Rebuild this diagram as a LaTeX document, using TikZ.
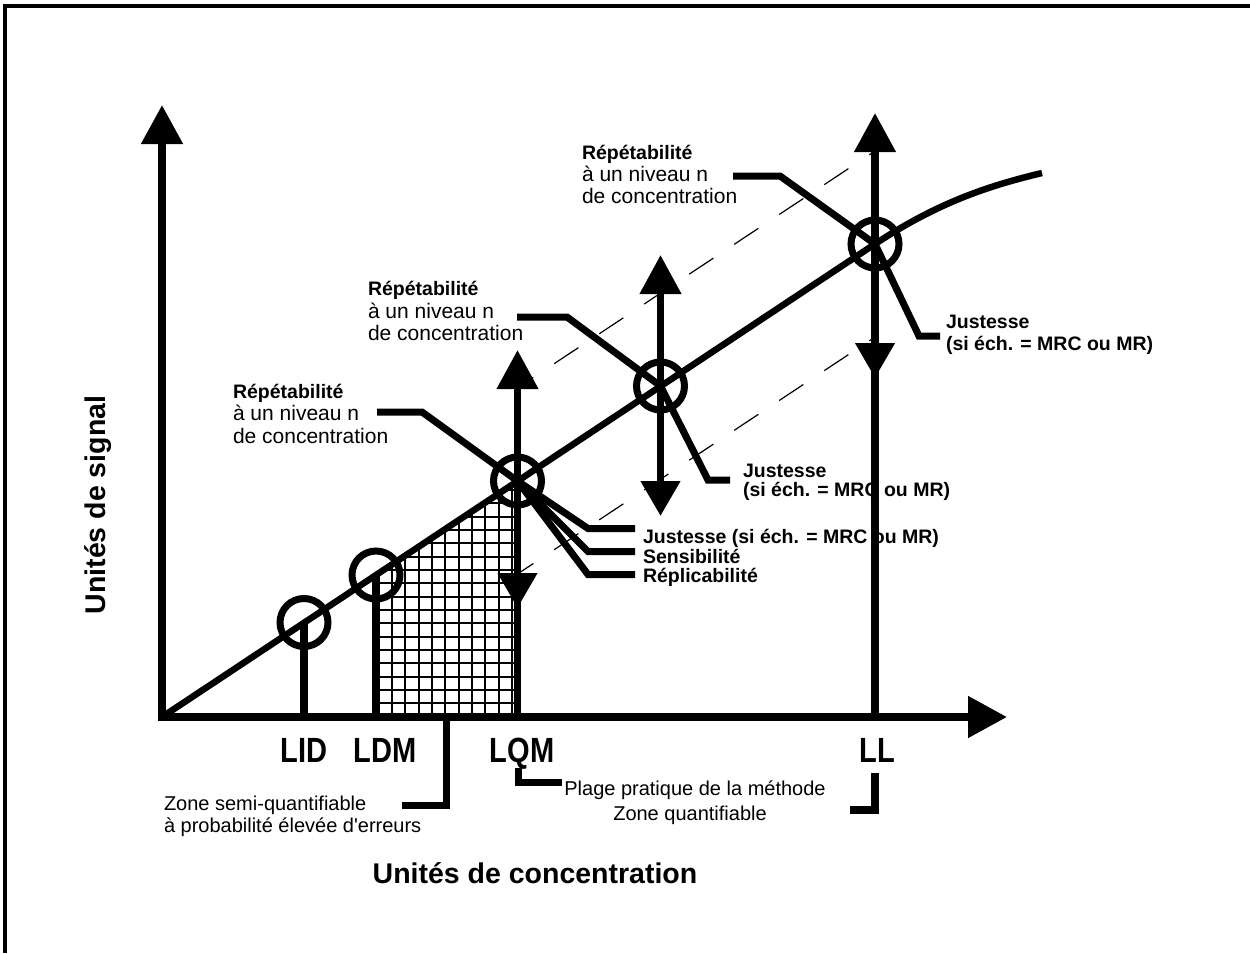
\documentclass[tikz,border=0pt]{standalone}
\usepackage{fontspec}
\setmainfont{Liberation Sans}
\usetikzlibrary{arrows.meta}
\newcommand\mycond[1]{\scalebox{0.83}[1]{#1}}
\begin{document}
\begin{tikzpicture}[x=1pt,y=-1pt,line join=miter,
  every node/.style={inner sep=0pt,outer sep=0pt},
  regtxt/.style={font=\fontsize{21}{24}\selectfont,anchor=base west},
  regsm/.style={font=\fontsize{20}{24}\selectfont,anchor=base west},
  boldsm/.style={font=\bfseries\fontsize{19.5}{22}\selectfont,anchor=base west},
  axlab/.style={font=\bfseries\fontsize{35}{40}\selectfont,anchor=base},
  titletxt/.style={font=\bfseries\fontsize{28.5}{32}\selectfont,anchor=base},
  axisline/.style={line width=8pt},
  heavy/.style={line width=7.5pt},
  leader/.style={line width=7pt},
  ring/.style={line width=7pt},
  mainline/.style={line width=6.5pt},
  gridl/.style={line width=2pt},
  dashl/.style={line width=1.2pt,dash pattern=on 29pt off 25pt,dash phase=10pt},
  uptip/.style={-{Triangle[width=40pt,length=39pt]}},
  dntip/.style={-{Triangle[width=38pt,length=35pt]}},
]
\useasboundingbox (0,0) rectangle (1250,953);
% frame (top and left only)
\draw[line width=4pt] (5,953) -- (5,6) -- (1250,6);

% key points
\coordinate (O) at (162,717);
\coordinate (Oy) at (162,721);
\coordinate (Ox) at (158,717);
\coordinate (Ytip) at (162,105);
\coordinate (Xtip) at (1007,717);
\coordinate (C1) at (304,622.5);
\coordinate (C2) at (376,575);
\coordinate (C3) at (517.5,481);
\coordinate (C4) at (660.5,386);
\coordinate (C5) at (875,244);
\coordinate (Cend) at (1042,173);
\coordinate (A1) at (304,717);
\coordinate (A2) at (376,717);
\coordinate (A3) at (517.5,717);
\coordinate (A5) at (875,717);
\coordinate (U3) at (517.5,350);
\coordinate (D3) at (517.5,608);
\coordinate (U4) at (660.5,255);
\coordinate (D4) at (660.5,516);
\coordinate (U5) at (875,113);
\coordinate (D5) at (875,378);

% grid zone
\begin{scope}
\clip (376,717) -- (376,575) -- (517.5,481) -- (517.5,717) -- cycle;
\foreach \k in {-1,...,9} \draw[gridl] (392+13.333*\k,470) -- (392+13.333*\k,717);
\foreach \k in {0,...,17} \draw[gridl] (370,703.3-13.333*\k) -- (520,703.3-13.333*\k);
\end{scope}

% dashed bands
\coordinate (UB3) at (517.5,388);
\coordinate (UB5) at (875,151);
\coordinate (LB3) at (517.5,574);
\coordinate (LB5) at (875,337);
\draw[dashl] (UB3) -- (UB5);
\draw[dashl] (LB3) -- (LB5);

% texts
\node[axlab] (lid) at (304,762) {\mycond{LID}};
\node[axlab] (ldm) at (385,762) {\mycond{LDM}};
\node[axlab] (lqm) at (522,762) {\mycond{LQM}};
\node[axlab] (ll) at (877,762) {\mycond{LL}};

\node[regsm] (z1) at (164,810) {Zone semi-quantifiable};
\node[regsm] (z2) at (164,832) {à probabilité élevée d\textquotesingle erreurs};
\node[regsm,anchor=base] (p1) at (695,795) {Plage pratique de la méthode};
\node[regsm,anchor=base] (p2) at (690,820) {Zone quantifiable};

\node[titletxt] (xt) at (535,883) {Unités de concentration};
\node[titletxt,rotate=90] (yt) at (105,505) {Unités de signal};

\node[boldsm] (r1a) at (233,398) {Répétabilité};
\node[regtxt] (r1b) at (233,420) {à un niveau n};
\node[regtxt] (r1c) at (233,443) {de concentration};
\node[boldsm] (r2a) at (368,295) {Répétabilité};
\node[regtxt] (r2b) at (368,318) {à un niveau n};
\node[regtxt] (r2c) at (368,340) {de concentration};
\node[boldsm] (r3a) at (582,159) {Répétabilité};
\node[regtxt] (r3b) at (582,181) {à un niveau n};
\node[regtxt] (r3c) at (582,203) {de concentration};

\node[boldsm] (j1a) at (946,328) {Justesse};
\node[boldsm] (j1b) at (946,350) {(si éch. = MRC ou MR)};
\node[boldsm] (j2a) at (743,477) {Justesse};
\node[boldsm] (j2b) at (743,496) {(si éch. = MRC ou MR)};
\node[boldsm] (j3) at (643,543) {Justesse (si éch. = MRC ou MR)};
\node[boldsm] (sens) at (643,563) {Sensibilité};
\node[boldsm] (repl) at (643,582) {Réplicabilité};

% axes
\draw[axisline,uptip] (Oy) -- (Ytip);
\draw[axisline,uptip] (Ox) -- (Xtip);

% calibration line
\draw[mainline] (O) -- (C5) .. controls (940,201) and (992,185) .. (Cend);

% verticals
\draw[heavy] (C1) -- (A1);
\draw[heavy] (C2) -- (A2);
\draw[heavy] (C3) -- (A3);
\draw[heavy,uptip] (C3) -- (U3);
\draw[heavy,dntip] (C3) -- (D3);
\draw[heavy,uptip] (C4) -- (U4);
\draw[heavy,dntip] (C4) -- (D4);
\draw[heavy] (C5) -- (A5);
\draw[heavy,uptip] (C5) -- (U5);
\draw[heavy,dntip] (C5) -- (D5);

% circles
\foreach \c in {C1,C2,C3,C4,C5} \draw[ring] (\c) circle[radius=24];

% leaders
\coordinate (L1a) at (377,412); \coordinate (L1b) at (422,412);
\draw[leader] (L1a) -- (L1b) -- (C3);
\coordinate (L2a) at (517,317); \coordinate (L2b) at (567,317);
\draw[leader] (L2a) -- (L2b) -- (C4);
\coordinate (L3a) at (733,176); \coordinate (L3b) at (780,176);
\draw[leader] (L3a) -- (L3b) -- (C5);
\coordinate (L4a) at (919,336); \coordinate (L4b) at (940,336);
\draw[leader] (C5) -- (L4a) -- (L4b);
\coordinate (L5a) at (708,480); \coordinate (L5b) at (730,480);
\draw[leader] (C4) -- (L5a) -- (L5b);
\coordinate (L6a) at (588,528.5); \coordinate (L6b) at (635,528.5);
\draw[leader] (C3) -- (L6a) -- (L6b);
\coordinate (L7a) at (588,551.5); \coordinate (L7b) at (635,551.5);
\draw[leader] (C3) -- (L7a) -- (L7b);
\coordinate (L8a) at (588,574.5); \coordinate (L8b) at (635,574.5);
\draw[leader] (C3) -- (L8a) -- (L8b);

% zone brackets
\coordinate (Z0) at (446.5,717); \coordinate (Z1) at (446.5,805); \coordinate (Z2) at (402,805);
\draw[leader] (Z0) -- (Z1) -- (Z2);
\coordinate (B1) at (518.5,768); \coordinate (B2) at (518.5,782); \coordinate (B3) at (562,782);
\draw[leader] (B1) -- (B2) -- (B3);
\coordinate (B4) at (875,773); \coordinate (B5) at (875,810); \coordinate (B6) at (850,810);
\draw[line width=8pt] (B4) -- (B5) -- (B6);
\end{tikzpicture}
\end{document}
